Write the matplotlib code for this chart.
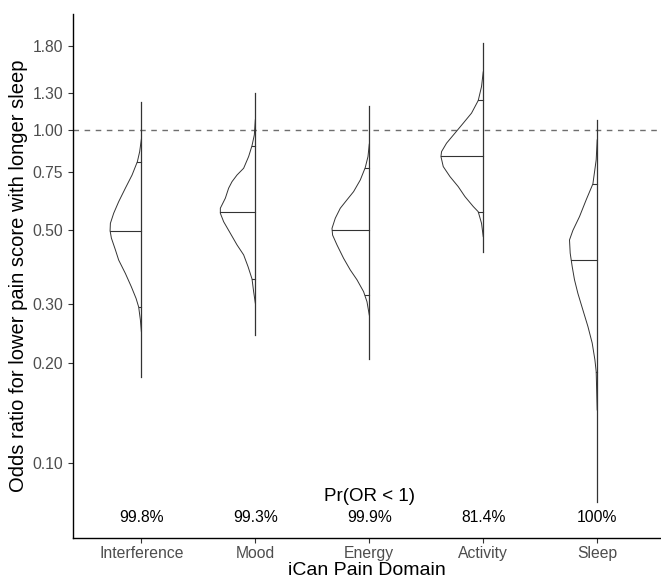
"""Half-violin posterior plot: odds ratio for lower pain score with longer sleep."""
import numpy as np
import matplotlib
matplotlib.use("Agg")
import matplotlib.pyplot as plt

plt.rcParams["font.family"] = ["Liberation Sans", "DejaVu Sans"]

DOMAINS = ["Interference", "Mood", "Energy", "Activity", "Sleep"]
PR_LABELS = ["99.8%", "99.3%", "99.9%", "81.4%", "100%"]

# interval line (low, high), quantile lines (low, median, high)
LINE_LO = [0.181, 0.242, 0.205, 0.431, 0.076]
LINE_HI = [1.22, 1.294, 1.18, 1.83, 1.076]
Q_LO = [0.294, 0.357, 0.319, 0.569, 0.188]
Q_MED = [0.499, 0.569, 0.50, 0.838, 0.407]
Q_HI = [0.805, 0.90, 0.773, 1.23, 0.690]

# density outlines: OR values (top -> bottom) and half widths (pixels at 114 px/category)
INTERF_OR = [0.941, 0.863, 0.805, 0.734, 0.670, 0.610, 0.563, 0.525, 0.499, 0.474,
             0.437, 0.407, 0.371, 0.338, 0.312, 0.294, 0.269, 0.248]
INTERF_W = [0, 1.7, 4, 9.3, 16, 22.7, 27.7, 31, 31.3, 30, 26, 22.7, 16, 10, 5.3, 2.7, 1, 0]

MOOD_OR = [1.076, 0.969, 0.90, 0.834, 0.769, 0.734, 0.701, 0.670, 0.625, 0.583, 0.563,
           0.531, 0.490, 0.452, 0.422, 0.389, 0.357, 0.327, 0.302]
MOOD_W = [0, 1, 3.3, 6.7, 11.7, 18.3, 23.3, 26.7, 30, 35, 35, 31.7, 25, 18.3, 11.7,
          7.3, 3.3, 1.7, 0]

ENERGY_OR = [0.909, 0.834, 0.773, 0.709, 0.654, 0.618, 0.583, 0.544, 0.507, 0.484,
             0.452, 0.412, 0.380, 0.355, 0.327, 0.305, 0.278]
ENERGY_W = [0, 1.3, 4, 9, 15.7, 22.3, 29, 34, 37.3, 36.7, 32.3, 25.7, 19, 12.3, 5.7, 2.3, 0]

ACTIV_OR = [1.50, 1.355, 1.23, 1.127, 1.051, 0.981, 0.915, 0.863, 0.834, 0.778, 0.726,
            0.677, 0.632, 0.590, 0.569, 0.525, 0.479]
ACTIV_W = [0, 1.7, 5, 11.7, 20, 28.3, 36.7, 41.7, 42.3, 40, 33.3, 25, 18.3, 10, 5, 1.7, 0]

SLEEP_OR = [0.936, 0.815, 0.690, 0.618, 0.550, 0.50, 0.468, 0.427, 0.389, 0.355, 0.323,
            0.288, 0.257, 0.229, 0.204, 0.188, 0.144]
SLEEP_W = [0, 1, 4.3, 11, 17.7, 24.3, 27.7, 27, 25, 22.7, 19.3, 14.3, 9.3, 5, 2.3, 1, 0]

OUTLINES = [(INTERF_OR, INTERF_W), (MOOD_OR, MOOD_W), (ENERGY_OR, ENERGY_W),
            (ACTIV_OR, ACTIV_W), (SLEEP_OR, SLEEP_W)]

Y_TICKS = [0.10, 0.20, 0.30, 0.50, 0.75, 1.00, 1.30, 1.80]
PX_PER_CAT = 114.0
LINE_COL = "#333333"

fig = plt.figure(figsize=(6.61, 5.81), dpi=100)
ax = fig.add_axes([73 / 661, 1 - 538 / 581, 1 - 73 / 661, (538 - 14) / 581])
ax.set_yscale("log")
ax.set_ylim(0.0593, 2.24)
ax.set_xlim(0.4, 5.56)

ax.axhline(1.0, color="#6e6e6e", lw=1.0, ls=(0, (4, 4)), zorder=1)

for i, (ors, ws) in enumerate(OUTLINES):
    x0 = i + 1
    ors = np.asarray(ors)
    ws = np.asarray(ws) / PX_PER_CAT
    ax.plot([x0, x0], [LINE_LO[i], LINE_HI[i]], color=LINE_COL, lw=0.9, zorder=3)
    ax.plot(x0 - ws, ors, color=LINE_COL, lw=0.7, zorder=3)
    # quantile lines: width taken from the outline at that height
    lo = np.log(ors[::-1])
    for q in (Q_LO[i], Q_MED[i], Q_HI[i]):
        w = np.interp(np.log(q), lo, ws[::-1])
        ax.plot([x0 - w, x0], [q, q], color=LINE_COL, lw=0.8, zorder=3)
    ax.text(x0, 0.0685, PR_LABELS[i], ha="center", va="center", fontsize=11.3,
            color="black")

ax.text(3, 0.0790, "Pr(OR < 1)", ha="center", va="center", fontsize=13.5, color="black")

ax.set_yticks(Y_TICKS)
ax.set_yticklabels([f"{v:.2f}" for v in Y_TICKS])
ax.yaxis.set_minor_locator(matplotlib.ticker.NullLocator())
ax.set_xticks(range(1, 6))
ax.set_xticklabels(DOMAINS)
ax.tick_params(axis="both", colors="#333333", labelcolor="#4d4d4d", labelsize=11.3,
               length=3.5, width=0.8)
ax.tick_params(axis="x", pad=2.5)

for side in ("top", "right"):
    ax.spines[side].set_visible(False)
for side in ("left", "bottom"):
    ax.spines[side].set_linewidth(1.0)
    ax.spines[side].set_color("black")

ax.set_xlabel("iCan Pain Domain", fontsize=14, labelpad=0.5)
ax.set_ylabel("Odds ratio for lower pain score with longer sleep", fontsize=14.5, labelpad=3)

fig.savefig("out.png", dpi=100)
